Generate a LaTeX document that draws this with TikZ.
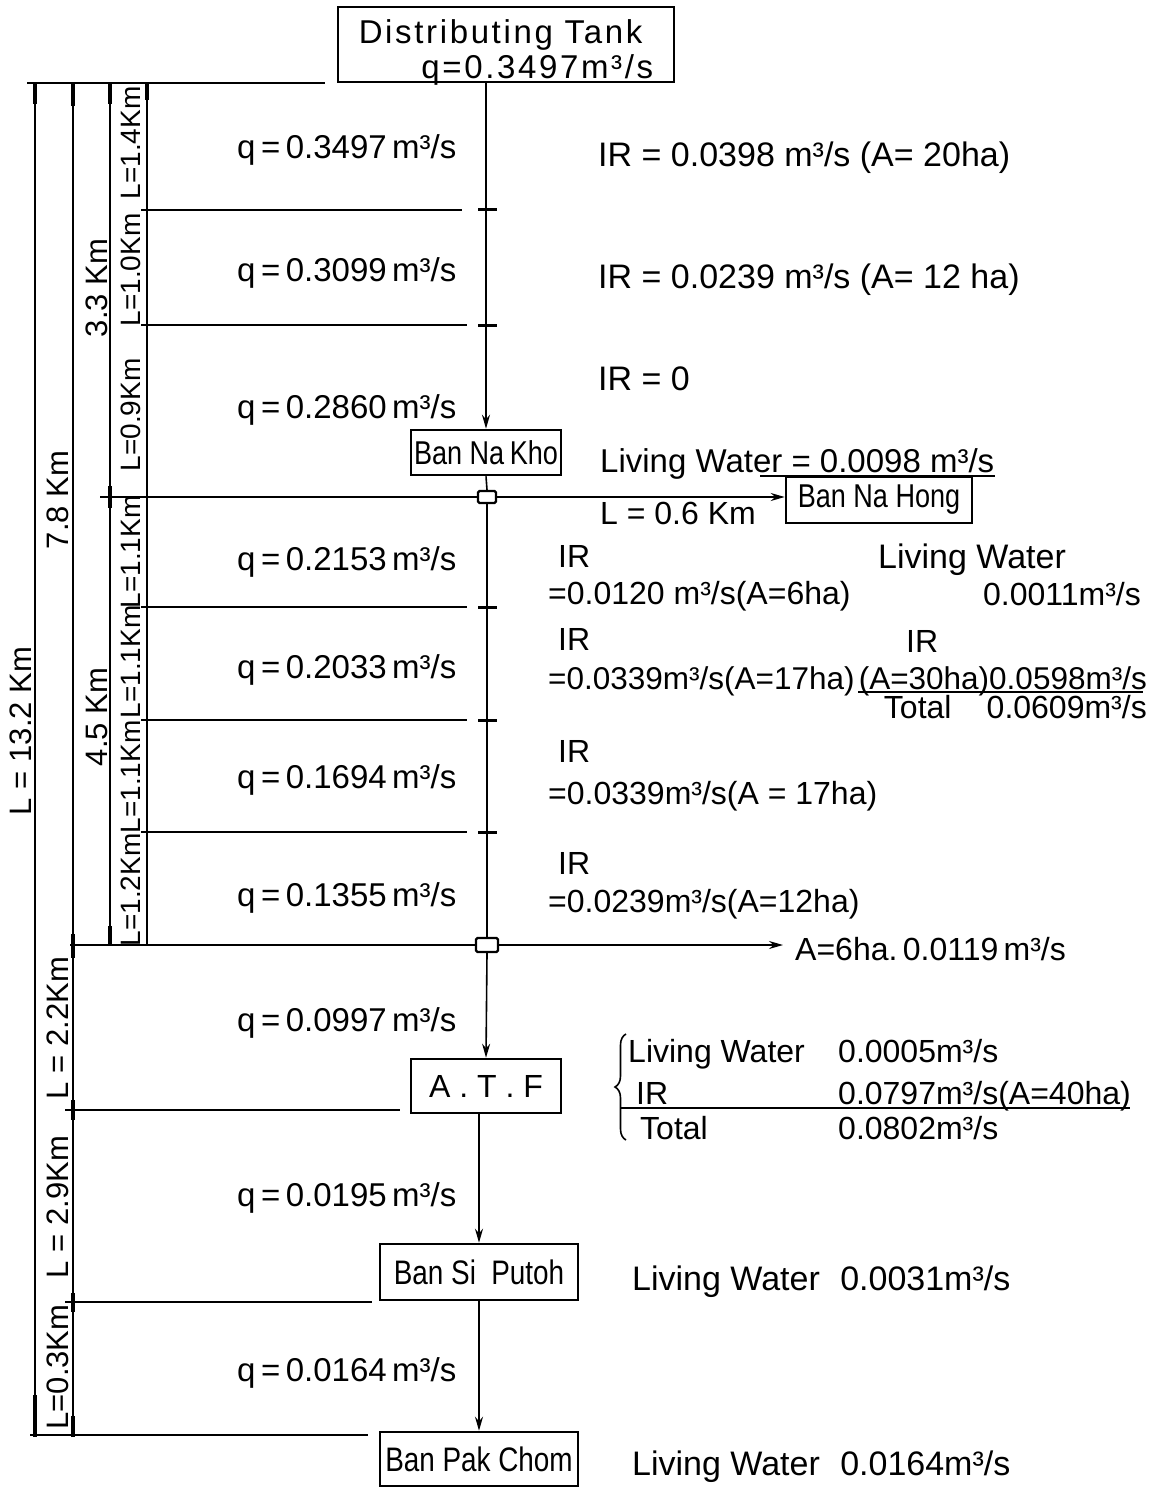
\documentclass[tikz,border=0pt]{standalone}
\usepackage{fontspec}
\setmainfont{Liberation Sans}
\newfontfamily\condfont[FakeStretch=0.82]{Liberation Sans}
\newfontfamily\tankfont[LetterSpace=8]{Liberation Sans}
\usetikzlibrary{arrows.meta,decorations.pathreplacing}
\begin{document}
\begin{tikzpicture}[x=1pt,y=-1pt,
  ln/.style={line width=1.6pt},
  dimln/.style={line width=1.3pt},
  dimtick/.style={line width=3.6pt},
  box/.style={draw,line width=2.6pt,inner sep=0pt,anchor=center},
  flow/.style={ln,-{Stealth[length=14pt,width=8pt]}},
  jbox/.style={draw,line width=2.4pt,inner sep=0pt,rounded corners=1.5pt},
  txt/.style={anchor=base west,inner sep=0pt,font=\fontsize{32}{34}\selectfont},
  bigtxt/.style={anchor=base west,inner sep=0pt,font=\fontsize{34}{36}\selectfont},
  qtxt/.style={anchor=west,inner sep=0pt,font=\fontsize{33}{35}\selectfont},
  rot/.style={rotate=90,inner sep=0pt,font=\fontsize{31}{33}\selectfont},
  srot/.style={rotate=90,inner sep=0pt,font=\fontsize{28}{30}\selectfont},
]
\useasboundingbox (0,0) rectangle (1154,1487);
\fill[white] (0,0) rectangle (1154,1487);

% ---------- boxes ----------
\node[box,minimum width=336pt,minimum height=75pt,font=\tankfont\fontsize{33}{35}\selectfont]
  (tank) at (506,44.5) {\raisebox{-10pt}[\height][\depth]{\begin{tabular}{@{}l@{}}Distributing Tank\\\hspace*{1.9em}q=0.3497m³/s\end{tabular}}};
\node[box,minimum width=150pt,minimum height=45pt,font=\condfont\fontsize{33}{35}\selectfont]
  (nakho) at (486,452.5) {Ban Na\,Kho};
\node[box,minimum width=186pt,minimum height=46pt,font=\condfont\fontsize{33}{35}\selectfont]
  (nahong) at (879,500) {Ban Na Hong};
\node[box,minimum width=150pt,minimum height=54pt,font=\fontsize{32}{34}\selectfont]
  (atf) at (486,1086) {A . T . F};
\node[box,minimum width=198pt,minimum height=56pt,font=\condfont\fontsize{34}{36}\selectfont]
  (siputoh) at (479,1272) {Ban Si\hspace{0.45em}Putoh};
\node[box,minimum width=198pt,minimum height=54pt,font=\condfont\fontsize{34}{36}\selectfont]
  (pakchom) at (479,1459) {Ban Pak Chom};

% junction squares
\node[jbox,minimum width=18pt,minimum height=12pt] (j1) at (487,497) {};
\node[jbox,minimum width=22pt,minimum height=14pt] (j2) at (487,945) {};

% ---------- main flow ----------
\draw[flow] (tank.south -| nakho.north) -- (nakho.north);
\draw[ln] (nakho.south) -- (j1.north);
\draw[ln] (j1.south) -- (j2.north);
\draw[flow] (j2.south) -- (atf.north);
\draw[flow] (atf.south -| siputoh.north) -- (siputoh.north);
\draw[flow] (siputoh.south) -- (pakchom.north);

\coordinate (j1w) at (100,497);
\coordinate (j2w) at (70,945);
\coordinate (j2e) at (783,945);
\draw[ln] (j1.west) -- (j1w);
\draw[flow] (j1.east) -- (j1.east -| nahong.west);
\draw[ln] (j2.west) -- (j2w);
\draw[flow] (j2.east) -- (j2e);

% ticks on main line
\foreach \yy in {210,325,607,720,832}
  \draw[line width=3pt] (478,\yy) -- (497,\yy);

% ---------- dimension lines ----------
\draw[dimln] (27,83) -- (325,83);
\draw[dimln] (145,210) -- (462,210);
\draw[dimln] (145,325) -- (467,325);
\draw[dimln] (145,607) -- (467,607);
\draw[dimln] (145,720) -- (467,720);
\draw[dimln] (145,832) -- (467,832);
\draw[dimln] (65,1110) -- (400,1110);
\draw[dimln] (65,1302) -- (372,1302);
\draw[dimln] (30,1435) -- (368,1435);

\draw[dimln] (35,83) -- (35,1435);
\draw[dimln] (73,83) -- (73,1435);
\draw[dimln] (110,83) -- (110,945);
\draw[dimln] (147,83) -- (147,945);

% thick end ticks
\draw[dimtick] (35,83) -- (35,104);
\draw[dimtick] (73,83) -- (73,106);
\draw[dimtick] (110,83) -- (110,104);
\draw[dimtick] (147,83) -- (147,100);
\draw[dimtick] (110,486) -- (110,508);
\draw[dimtick] (73,934) -- (73,958);
\draw[dimtick] (110,926) -- (110,945);
\draw[dimtick] (73,1100) -- (73,1120);
\draw[dimtick] (73,1293) -- (73,1312);
\draw[dimtick] (35,1395) -- (35,1437);
\draw[dimtick] (73,1416) -- (73,1437);
\foreach \yy in {210,325,607,720,832}
  \draw[line width=2.6pt] (141,\yy) -- (153,\yy);

% rotated length labels
\node[rot] (l132) at (21,731) {L = 13.2 Km};
\node[rot] (l78) at (58,500) {7.8 Km};
\node[rot] (l33) at (97,288) {3.3 Km};
\node[rot] (l45) at (97,717) {4.5 Km};
\node[rot] (l22) at (58,1028) {L = 2.2Km};
\node[rot] (l29) at (58,1207) {L = 2.9Km};
\node[rot] (l03) at (58,1367) {L=0.3Km};
\node[srot] (s1) at (131,143) {L=1.4Km};
\node[srot] (s2) at (131,270) {L=1.0Km};
\node[srot] (s3) at (131,415) {L=0.9Km};
\node[srot] (s4) at (131,552) {L=1.1Km};
\node[srot] (s5) at (131,662) {L=1.1Km};
\node[srot] (s6) at (131,777) {L=1.1Km};
\node[srot] (s7) at (131,890) {L=1.2Km};

% ---------- q labels ----------
\node[qtxt] (q1) at (237,150) {q\,=\,0.3497\,m³/s};
\node[qtxt] (q2) at (237,273) {q\,=\,0.3099\,m³/s};
\node[qtxt] (q3) at (237,410) {q\,=\,0.2860\,m³/s};
\node[qtxt] (q4) at (237,562) {q\,=\,0.2153\,m³/s};
\node[qtxt] (q5) at (237,670) {q\,=\,0.2033\,m³/s};
\node[qtxt] (q6) at (237,780) {q\,=\,0.1694\,m³/s};
\node[qtxt] (q7) at (237,898) {q\,=\,0.1355\,m³/s};
\node[qtxt] (q8) at (237,1023) {q\,=\,0.0997\,m³/s};
\node[qtxt] (q9) at (237,1198) {q\,=\,0.0195\,m³/s};
\node[qtxt] (q10) at (237,1373) {q\,=\,0.0164\,m³/s};

% ---------- right labels ----------
\node[bigtxt] (ir1) at (598,167) {IR = 0.0398 m³/s (A= 20ha)};
\node[bigtxt] (ir2) at (598,289) {IR = 0.0239 m³/s (A= 12 ha)};
\node[bigtxt] (ir3) at (598,390) {IR = 0};
\node[txt,font=\fontsize{33}{35}\selectfont] (lw1) at (600,472) {Living Water = 0.0098 m³/s};
\draw[dimln] (760,476) -- (995,476);
\node[txt] (l06) at (600,524) {L = 0.6 Km};

\node[txt] (ir4a) at (558,567) {IR};
\node[txt] (ir4b) at (548,604) {=0.0120 m³/s(A=6ha)};
\node[bigtxt] (lw2a) at (878,568) {Living Water};
\node[txt,anchor=base east] (lw2b) at (1141,605) {0.0011m³/s};

\node[txt] (ir5a) at (558,650) {IR};
\node[txt,font=\fontsize{31.5}{33}\selectfont] (ir5b) at (548,689) {=0.0339m³/s(A=17ha)};
\node[txt] (ir6a) at (906,652) {IR};
\node[txt,anchor=base east,font=\fontsize{31.5}{33}\selectfont] (ir6b) at (1147,689) {(A=30ha)0.0598m³/s};
\draw[dimln] (858,692) -- (1143,692);
\node[txt,anchor=base east] (tot1) at (1147,718) {Total\hspace{1.1em}0.0609m³/s};

\node[txt] (ir7a) at (558,762) {IR};
\node[txt] (ir7b) at (548,804) {=0.0339m³/s(A = 17ha)};
\node[txt] (ir8a) at (558,874) {IR};
\node[txt] (ir8b) at (548,912) {=0.0239m³/s(A=12ha)};

\node[txt] (a6) at (795,960) {A=6ha.\,0.0119\,m³/s};

% A.T.F summary
\draw[line width=1.6pt,decorate,decoration={brace,amplitude=11pt}] (626,1140) -- (626,1034);
\node[txt] (lw3a) at (628,1062) {Living Water};
\node[txt] (lw3b) at (838,1062) {0.0005m³/s};
\node[txt] (ir9a) at (636,1104) {IR};
\node[txt] (ir9b) at (838,1104) {0.0797m³/s(A=40ha)};
\draw[dimln] (620,1108) -- (1130,1108);
\node[txt] (tot2a) at (640,1139) {Total};
\node[txt] (tot2b) at (838,1139) {0.0802m³/s};

\node[bigtxt] (lw4) at (632,1290) {Living Water\hspace{0.6em}0.0031m³/s};
\node[bigtxt] (lw5) at (632,1475) {Living Water\hspace{0.6em}0.0164m³/s};
\end{tikzpicture}
\end{document}
